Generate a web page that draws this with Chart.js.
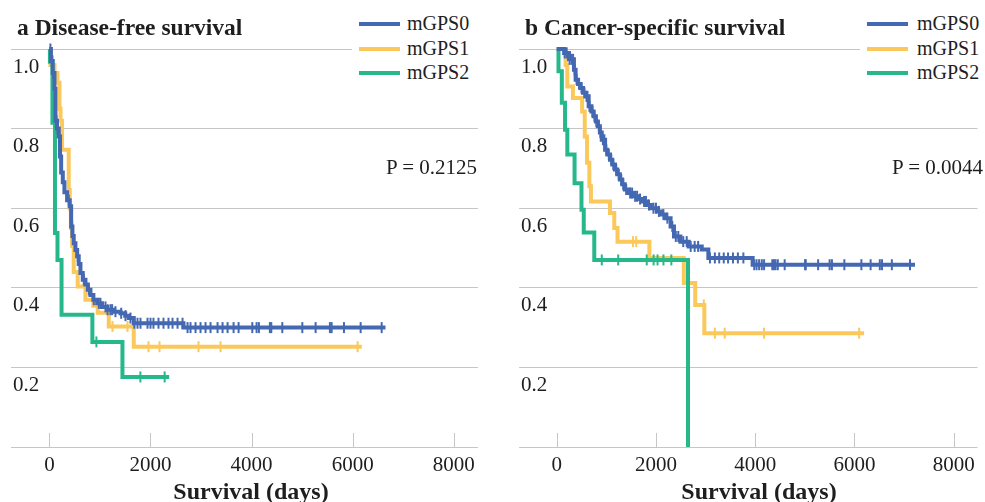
<!DOCTYPE html>
<html>
<head>
<meta charset="utf-8">
<title>mGPS survival</title>
<script src="https://cdn.jsdelivr.net/npm/chart.js@4.4.1/dist/chart.umd.min.js"></script>
<style>
  html, body { margin: 0; padding: 0; background: #fff; }
  #fig {
    position: relative; width: 985px; height: 502px; overflow: hidden;
    font-family: "Liberation Serif", "Times New Roman", serif; color: #1e1e1e;
  }
  .panel { position: absolute; top: 0; height: 502px; }
  #panelA { left: 0; width: 492px; }
  #panelB { left: 492px; width: 493px; }
  .title { position: absolute; top: 16px; font-size: 23.5px; line-height: 23px; font-weight: bold; white-space: nowrap; }
  .legend { position: absolute; top: 8px; height: 80px; background: #fff; }
  .key { position: absolute; height: 4px; width: 41px; }
  .keytext { position: absolute; font-size: 20px; line-height: 20px; white-space: nowrap; }
  .pval { position: absolute; top: 157px; font-size: 21px; line-height: 21px; white-space: nowrap; text-align: right; }
  .xtitle { position: absolute; top: 479px; width: 240px; font-size: 24px; line-height: 24px; font-weight: bold; text-align: center; white-space: nowrap; }
</style>
</head>
<body>
<div id="fig">
  <div class="panel" id="panelA"><canvas id="chartA"></canvas></div>
  <div class="panel" id="panelB"><canvas id="chartB"></canvas></div>

  <div class="title" style="left:17px">a Disease-free survival</div>
  <div class="title" style="left:525px">b Cancer-specific survival</div>

  <div class="legend" id="legendA" style="left:352px; width:130px"></div>
  <div class="legend" id="legendB" style="left:860px; width:125px"></div>

  <div class="pval" id="pA" style="right:508px"></div>
  <div class="pval" id="pB" style="right:2px"></div>

  <div class="xtitle" style="left:131px">Survival (days)</div>
  <div class="xtitle" style="left:639px">Survival (days)</div>
</div>

<script>
/* ── DATA ── */
const xTicks = [0, 2000, 4000, 6000, 8000];
const yTicks = [0, 0.2, 0.4, 0.6, 0.8, 1.0];
const groupNames  = ['mGPS0', 'mGPS1', 'mGPS2'];
const groupColors = ['#4468b1', '#fbc85b', '#26b88a'];

/* a — disease-free survival */
const dfsTime0 = [0, 30, 65, 100, 120, 150, 185, 210, 232, 265, 297, 350, 402, 430, 455, 481, 515, 549, 580, 614, 660, 713, 760, 812, 870, 945, 1040, 1143, 1280, 1406, 1500, 1570, 1669, 2653];
const dfsSurv0 = [1.0, 0.97, 0.94, 0.90, 0.82, 0.80, 0.78, 0.73, 0.69, 0.665, 0.64, 0.62, 0.605, 0.554, 0.53, 0.512, 0.495, 0.479, 0.46, 0.437, 0.42, 0.408, 0.395, 0.382, 0.37, 0.361, 0.352, 0.345, 0.34, 0.336, 0.33, 0.324, 0.311, 0.30];
const dfsCens0 = [20, 60, 75, 110, 140, 160, 190, 383, 450, 561, 680, 780, 878, 977, 1010, 1109, 1150, 1208, 1241, 1307, 1420, 1505, 1604, 1680, 1743, 1802, 1941, 2000, 2059, 2158, 2257, 2356, 2436, 2535, 2634, 2733, 2792, 2891, 2990, 3089, 3188, 3327, 3426, 3525, 3644, 3743, 4014, 4099, 4145, 4362, 4390, 4608, 5004, 5267, 5550, 5584, 5828, 6158, 6574];

const dfsTime1 = [0, 20, 100, 160, 200, 220, 250, 382, 402, 425, 450, 481, 560, 713, 870, 956, 1174, 1669];
const dfsSurv1 = [1.0, 0.96, 0.94, 0.915, 0.85, 0.82, 0.747, 0.646, 0.60, 0.55, 0.505, 0.44, 0.403, 0.37, 0.355, 0.337, 0.303, 0.252];
const dfsCens1 = [1248, 1545, 1960, 2178, 2950, 3386, 6099];

const dfsTime2 = [0, 10, 60, 110, 160, 240, 850, 1445];
const dfsSurv2 = [1.0, 0.968, 0.815, 0.538, 0.47, 0.332, 0.264, 0.176];
const dfsCens2 = [930, 1800, 2280];

const dfsEnd = [6650, 6180, 2370];
const dfsP = 'P = 0.2125';

/* b — cancer-specific survival */
const cssTime0 = [0, 149, 248, 347, 381, 430, 480, 530, 579, 644, 700, 743, 790, 828, 870, 908, 975, 1020, 1074, 1120, 1173, 1220, 1272, 1320, 1372, 1450, 1536, 1640, 1734, 1820, 1899, 2032, 2110, 2196, 2295, 2363, 2493, 2660, 2923, 3056, 3948];
const cssSurv0 = [1.0, 0.99, 0.974, 0.948, 0.923, 0.912, 0.902, 0.89, 0.881, 0.856, 0.843, 0.831, 0.818, 0.806, 0.79, 0.772, 0.747, 0.735, 0.722, 0.71, 0.697, 0.685, 0.672, 0.66, 0.647, 0.638, 0.630, 0.623, 0.617, 0.608, 0.600, 0.592, 0.584, 0.575, 0.554, 0.529, 0.516, 0.504, 0.496, 0.475, 0.458];
const cssCens0 = [160, 200, 260, 300, 330, 360, 400, 450, 500, 560, 600, 620, 660, 720, 760, 800, 850, 880, 930, 960, 1000, 1050, 1100, 1140, 1200, 1250, 1300, 1340, 1400, 1480, 1520, 1580, 1620, 1680, 1760, 1800, 1860, 1950, 2000, 2060, 2150, 2230, 2330, 2400, 2450, 2550, 2620, 2700, 2780, 2850, 3088, 3187, 3275, 3366, 3453, 3552, 3651, 3762, 3980, 4027, 4079, 4133, 4179, 4345, 4377, 4410, 4455, 4594, 5005, 5019, 5268, 5500, 5546, 5797, 6140, 6326, 6511, 6556, 6754, 7120];

const cssTime1 = [0, 180, 214, 327, 512, 565, 611, 658, 690, 1074, 1160, 1225, 1867, 2561, 2791, 2975];
const cssSurv1 = [1.0, 0.96, 0.906, 0.877, 0.843, 0.78, 0.714, 0.655, 0.617, 0.588, 0.55, 0.516, 0.475, 0.412, 0.357, 0.286];
const cssCens1 = [1536, 1602, 2965, 3188, 3386, 4179, 6095];

const cssTime2 = [0, 36, 103, 168, 214, 360, 499, 545, 757, 2646];
const cssSurv2 = [1.0, 0.944, 0.865, 0.797, 0.735, 0.663, 0.596, 0.539, 0.470, 0];
const cssCens2 = [908, 1239, 1814, 1953, 2032, 2151, 2310];

const cssEnd = [7220, 6195, 2646];
const cssP = 'P = 0.0044';

/* ── HELPERS ── */
const FONT = '"Liberation Serif", "Times New Roman", serif';
const GRID = '#c6c6c6';
const LAYER = [0, 2, 1]; // blue on top, then green, then yellow

// survival value in force at time t (step function)
function survAt(times, surv, t) {
  let v = surv[0];
  for (let i = 0; i < times.length; i++) if (times[i] <= t) v = surv[i];
  return v;
}

function curvePoints(times, surv, end) {
  const pts = times.map((t, i) => ({ x: t, y: surv[i] }));
  if (end > times[times.length - 1]) pts.push({ x: end, y: surv[surv.length - 1] });
  return pts;
}

function buildDatasets(series, ends) {
  const out = [];
  series.forEach(([times, surv, cens], i) => {
    const color = groupColors[i];
    out.push({
      label: groupNames[i],
      data: curvePoints(times, surv, ends[i]),
      borderColor: color,
      borderWidth: 4,
      borderJoinStyle: 'miter',
      stepped: true,
      tension: 0,
      pointRadius: 0,
      fill: false,
      clip: false,
      order: LAYER[i] * 2 + 1,
    });
    out.push({
      label: groupNames[i] + ' censored',
      data: cens.map(t => ({ x: t, y: survAt(times, surv, t) })),
      showLine: false,
      pointStyle: 'line',
      rotation: 90,
      pointRadius: 5.5,
      pointBorderWidth: 2,
      pointBorderColor: color,
      pointBackgroundColor: color,
      clip: false,
      order: LAYER[i] * 2,
    });
  });
  return out;
}

/* short tick marks pointing up from the bottom line */
const innerTicks = {
  id: 'innerTicks',
  beforeDatasetsDraw(chart) {
    const { ctx, chartArea, scales: { x } } = chart;
    ctx.save();
    ctx.strokeStyle = GRID;
    ctx.lineWidth = 1;
    x.ticks.forEach(t => {
      const px = Math.round(x.getPixelForValue(t.value)) + 0.5;
      ctx.beginPath();
      ctx.moveTo(px, chartArea.bottom);
      ctx.lineTo(px, chartArea.bottom - 14);
      ctx.stroke();
    });
    ctx.restore();
  },
};

function makeChart(id, datasets, padL, padR) {
  return new Chart(document.getElementById(id), {
    type: 'line',
    data: { datasets },
    options: {
      responsive: true,
      maintainAspectRatio: false,
      animation: false,
      layout: { padding: { left: padL, right: padR, top: 49, bottom: 0 } },
      plugins: { legend: { display: false }, tooltip: { enabled: false } },
      scales: {
        x: {
          type: 'linear',
          min: -760,
          max: 8480,
          border: { display: false },
          grid: { display: false },
          afterBuildTicks: s => { s.ticks = xTicks.map(v => ({ value: v })); },
          afterFit: s => { s.height = 55; },
          ticks: {
            color: '#1e1e1e', font: { family: FONT, size: 21 },
            padding: -2, maxRotation: 0, autoSkip: false,
            callback: v => String(v),
          },
        },
        y: {
          type: 'linear',
          min: 0,
          max: 1,
          border: { display: false },
          grid: { color: GRID, lineWidth: 1, drawTicks: false },
          afterBuildTicks: s => { s.ticks = yTicks.map(v => ({ value: v })); },
          ticks: {
            mirror: true, padding: 2, labelOffset: 18,
            color: '#1e1e1e', font: { family: FONT, size: 21 },
            callback: v => (v === 0 ? '' : Number(v).toFixed(1)),
          },
        },
      },
    },
    plugins: [innerTicks],
  });
}

/* ── LEGENDS / LABELS ── */
function fillLegend(id, lineLeft, textLeft) {
  const box = document.getElementById(id);
  const rows = [16, 40.5, 65];
  groupNames.forEach((name, i) => {
    const key = document.createElement('div');
    key.className = 'key';
    key.style.left = lineLeft + 'px';
    key.style.top = (rows[i] - 2) + 'px';
    key.style.background = groupColors[i];
    box.appendChild(key);
    const txt = document.createElement('div');
    txt.className = 'keytext';
    txt.style.left = textLeft + 'px';
    txt.style.top = (rows[i] - 11) + 'px';
    txt.textContent = name;
    box.appendChild(txt);
  });
}

fillLegend('legendA', 7, 55);
fillLegend('legendB', 7, 57);
document.getElementById('pA').textContent = dfsP;
document.getElementById('pB').textContent = cssP;

/* ── CHARTS ── */
makeChart('chartA', buildDatasets([
  [dfsTime0, dfsSurv0, dfsCens0],
  [dfsTime1, dfsSurv1, dfsCens1],
  [dfsTime2, dfsSurv2, dfsCens2],
], dfsEnd), 7, 14);

makeChart('chartB', buildDatasets([
  [cssTime0, cssSurv0, cssCens0],
  [cssTime1, cssSurv1, cssCens1],
  [cssTime2, cssSurv2, cssCens2],
], cssEnd), 23, 0);
</script>
</body>
</html>
